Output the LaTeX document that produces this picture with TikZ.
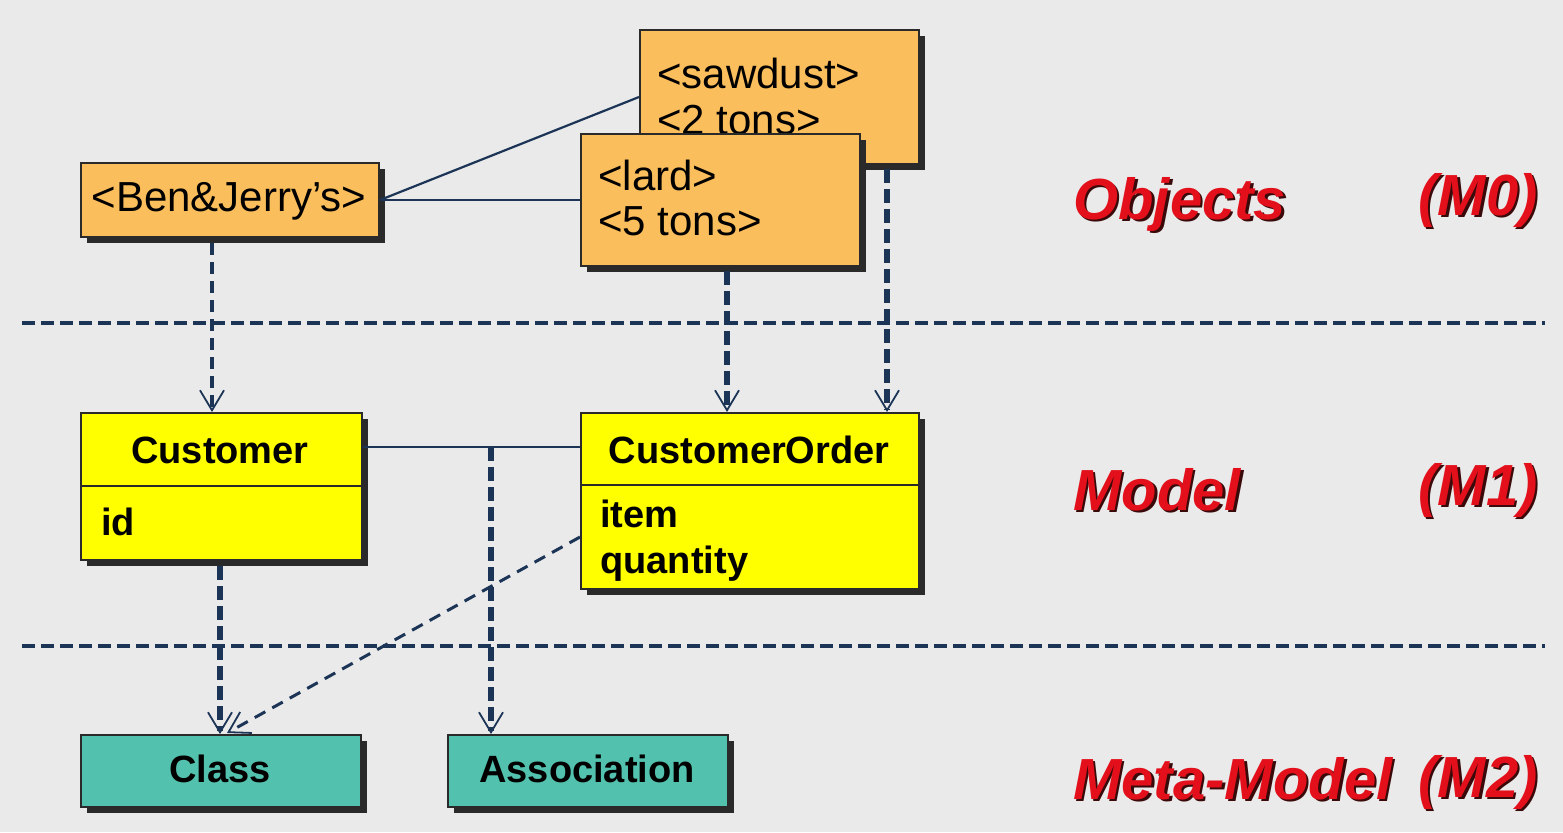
\documentclass[tikz,border=0pt]{standalone}
\usepackage{fontspec}
\setmainfont{Liberation Sans}
\usetikzlibrary{arrows.meta,shadows}

\definecolor{bgc}{HTML}{EAEAEA}
\definecolor{objfill}{HTML}{FBBE5C}
\definecolor{clsfill}{HTML}{FFFF00}
\definecolor{metafill}{HTML}{52C1AD}
\definecolor{navy}{HTML}{1C3557}
\definecolor{shade}{HTML}{2A2A2A}
\definecolor{lblred}{HTML}{E3101B}
\definecolor{lblshade}{HTML}{3A0A0A}

\tikzset{
  box/.style={draw=shade, line width=1pt, anchor=north west, inner sep=0pt,
    drop shadow={shadow xshift=3pt, shadow yshift=-3pt, fill=shade, opacity=1}},
  objbox/.style={box, fill=objfill},
  clsbox/.style={box, fill=clsfill},
  metabox/.style={box, fill=metafill},
  objtext/.style={inner sep=0pt, font=\fontsize{21}{25}\selectfont},
  clstext/.style={inner sep=0pt, font=\fontsize{19}{23}\selectfont\bfseries},
  lbltext/.style={inner sep=0pt, anchor=base west,
    font=\fontsize{29}{34}\selectfont\bfseries\itshape},
  link/.style={navy, line width=1.1pt},
  separator/.style={navy, line width=1.7pt, dash pattern=on 6.5pt off 3pt},
  barb/.tip={Straight Barb[length=10pt, width=12pt, line width=0.9pt]},
  inst/.style={navy, line width=2.8pt, dash pattern=on 7pt off 3pt, -barb},
  medinst/.style={navy, line width=2pt, dash pattern=on 6pt off 3.5pt, -barb},
  thininst/.style={navy, line width=1.5pt, dash pattern=on 6pt off 4pt, -barb},
}

\begin{document}
\begin{tikzpicture}[x=0.5pt, y=-0.5pt]
  % canvas
  \path[fill=bgc] (0,0) rectangle (1563,832);
  \useasboundingbox (0,0) rectangle (1563,832);

  % layer separators
  \coordinate (sepAl) at (22,323);
  \coordinate (sepAr) at (1545,323);
  \coordinate (sepBl) at (22,646);
  \coordinate (sepBr) at (1545,646);
  \draw[separator] (sepAl) -- (sepAr);
  \draw[separator] (sepBl) -- (sepBr);

  % M0: objects
  \node[objbox, minimum width=149pt, minimum height=37pt] (ben) at (80,162) {};
  \node[objtext, anchor=base] (bentxt) at (229,211) {<Ben\&Jerry’s>};

  \node[objbox, minimum width=139.5pt, minimum height=67pt] (saw) at (639,29) {};
  \node[objtext, anchor=base west] (sawa) at (657,88) {<sawdust>};
  \node[objtext, anchor=base west] (sawb) at (657,134) {<2 tons>};

  \node[objbox, minimum width=139.5pt, minimum height=66pt] (lard) at (580,133) {};
  \node[objtext, anchor=base west] (larda) at (598,190) {<lard>};
  \node[objtext, anchor=base west] (lardb) at (598,235) {<5 tons>};

  % M1: model classes
  \node[clsbox, minimum width=140.5pt, minimum height=73.5pt] (cust) at (80,412) {};
  \coordinate (custdl) at (80,486);
  \coordinate (custdr) at (361,486);
  \draw[draw=shade, line width=1pt] (custdl) -- (custdr);
  \node[clstext, anchor=base] (custname) at (220,463) {Customer};
  \node[clstext, anchor=base west] (custid) at (101,535) {id};

  \node[clsbox, minimum width=169pt, minimum height=88pt] (order) at (580,412) {};
  \coordinate (orderdl) at (580,485);
  \coordinate (orderdr) at (918,485);
  \draw[draw=shade, line width=1pt] (orderdl) -- (orderdr);
  \node[clstext, anchor=base] (ordername) at (749,463) {CustomerOrder};
  \node[clstext, anchor=base west] (orderitem) at (600,527) {item};
  \node[clstext, anchor=base west] (orderqty) at (600,573) {quantity};

  % M2: meta-model
  \node[metabox, minimum width=140pt, minimum height=36pt] (class) at (80,734) {};
  \node[clstext, anchor=base] (classtxt) at (220,782) {Class};
  \node[metabox, minimum width=140pt, minimum height=36pt] (assoc) at (447,734) {};
  \node[clstext, anchor=base] (assoctxt) at (587,782) {Association};

  % links between objects
  \coordinate (sawin) at (639,97);
  \draw[link] (ben.east) -- (sawin);
  \draw[link] (ben.east) -- (lard.west |- ben.east);

  % association between classes
  \coordinate (junc) at (491,447);
  \draw[link] (cust.east |- junc) -- (order.west |- junc);

  % instance-of dependencies
  \coordinate (benout) at (212,243);
  \coordinate (lardout) at (727,271);
  \coordinate (sawout) at (887,169);
  \coordinate (custout) at (220,566);
  \coordinate (orderout) at (580,537);
  \coordinate (classin) at (227,733);
  \draw[medinst] (benout) -- (benout |- cust.north);
  \draw[inst] (lardout) -- (lardout |- order.north);
  \draw[inst] (sawout) -- (sawout |- order.north);
  \draw[inst] (custout) -- (custout |- class.north);
  \draw[inst] (junc) -- (junc |- assoc.north);
  \draw[thininst] (orderout) -- (classin);

  % level labels
  \begin{scope}[shift={(2.5,2.5)}]
    \node[lbltext, text=lblshade] (objsh) at (1073,219) {Objects};
    \node[lbltext, text=lblshade] (m0sh) at (1418,215) {(M0)};
    \node[lbltext, text=lblshade] (modsh) at (1073,510) {Model};
    \node[lbltext, text=lblshade] (m1sh) at (1418,505) {(M1)};
    \node[lbltext, text=lblshade] (metash) at (1073,799) {Meta-Model};
    \node[lbltext, text=lblshade] (m2sh) at (1418,797) {(M2)};
  \end{scope}
  \node[lbltext, text=lblred] (obj) at (1073,219) {Objects};
  \node[lbltext, text=lblred] (m0) at (1418,215) {(M0)};
  \node[lbltext, text=lblred] (mod) at (1073,510) {Model};
  \node[lbltext, text=lblred] (m1) at (1418,505) {(M1)};
  \node[lbltext, text=lblred] (meta) at (1073,799) {Meta-Model};
  \node[lbltext, text=lblred] (m2) at (1418,797) {(M2)};
\end{tikzpicture}
\end{document}
